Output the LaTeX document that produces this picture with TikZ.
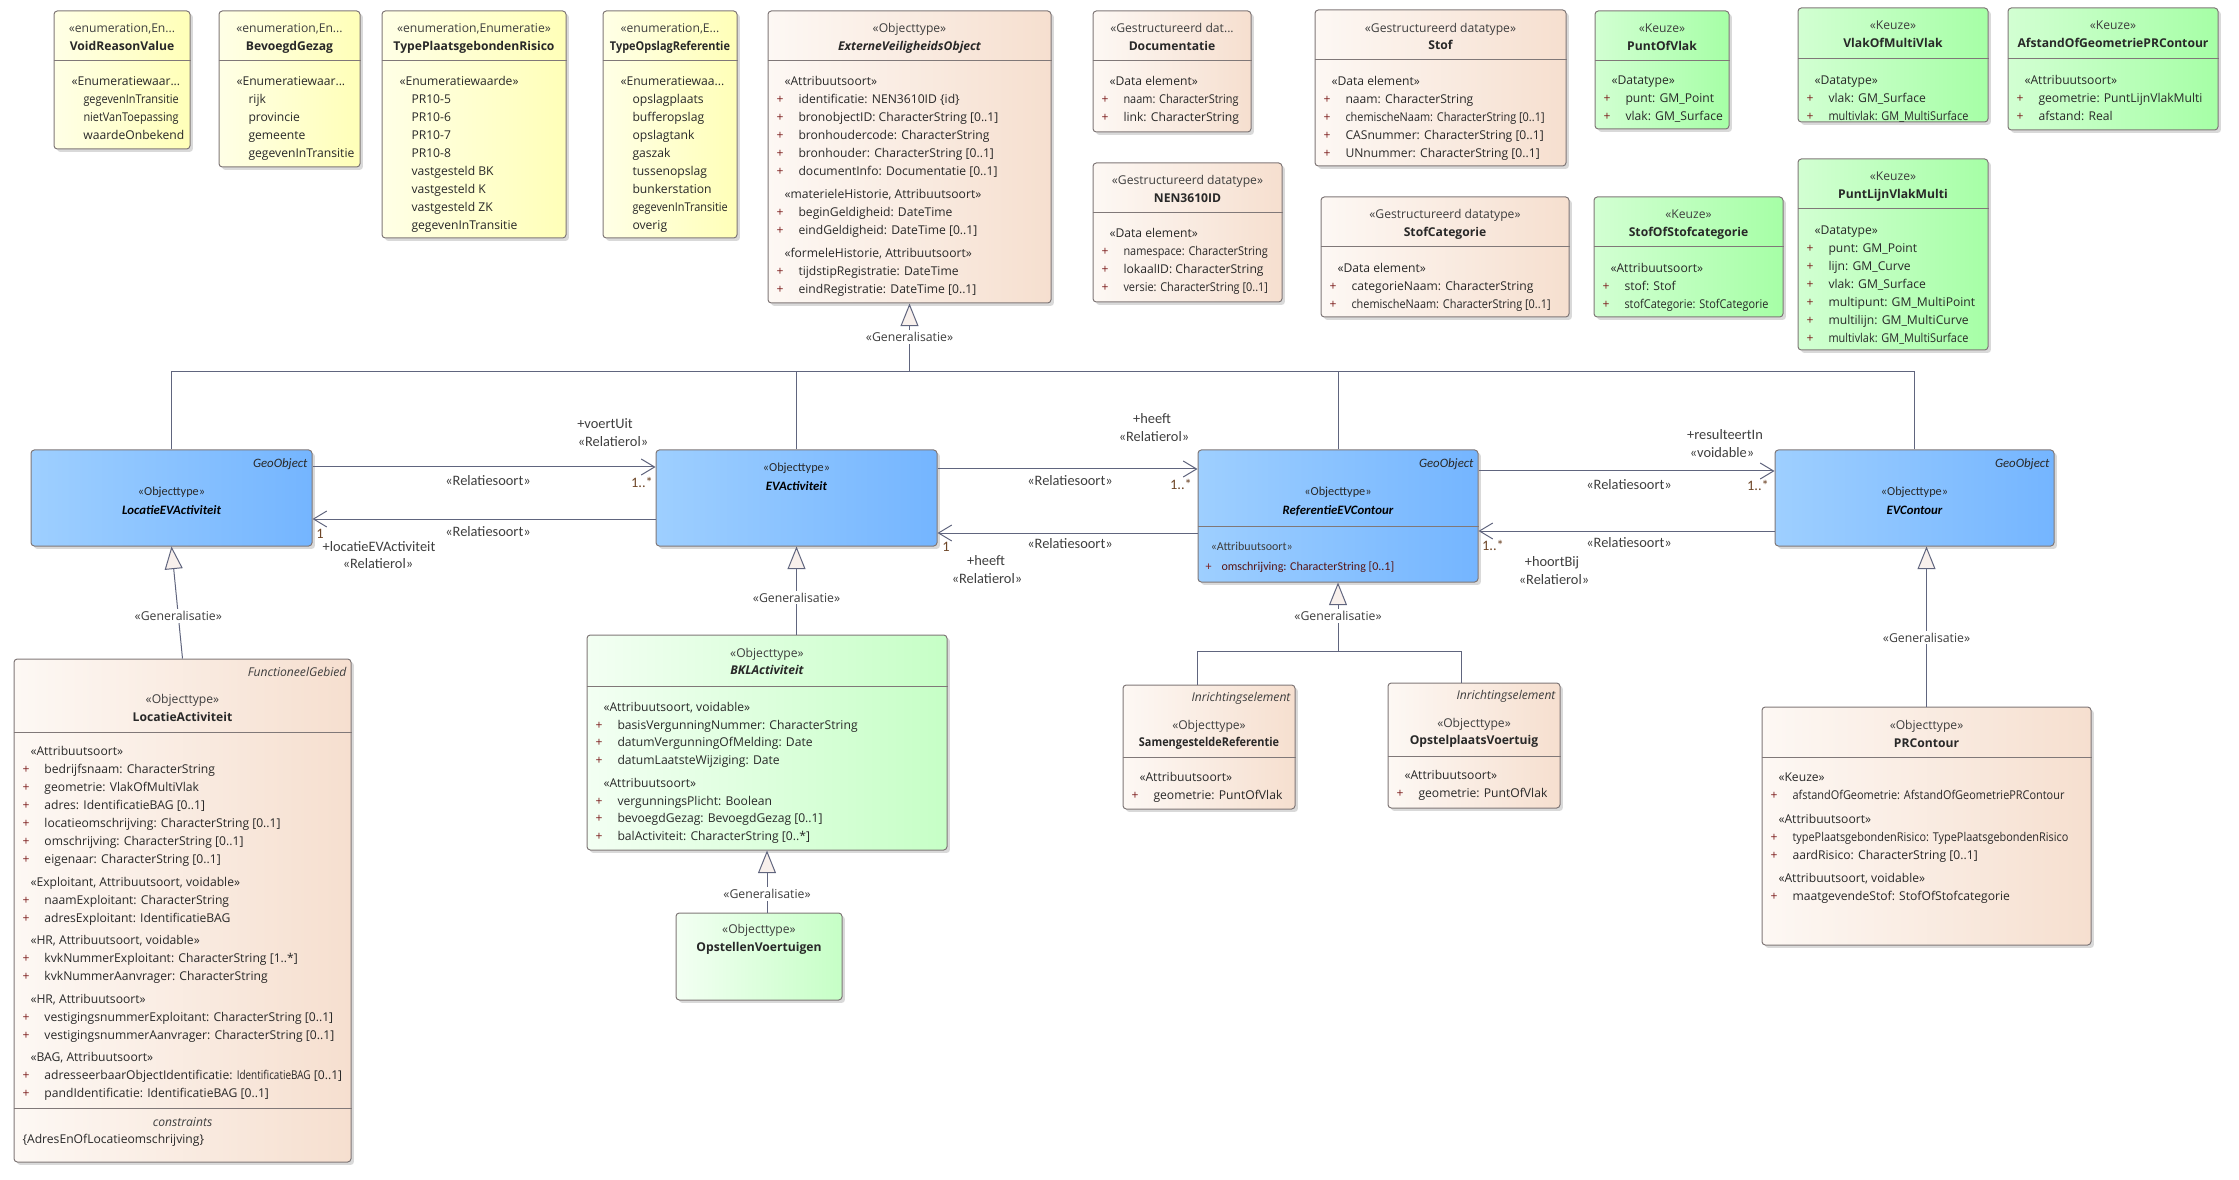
\documentclass[tikz,border=0pt]{standalone}
\usepackage{fontspec}
\usepackage{graphicx}
\setmainfont{Open Sans}
\newfontfamily\narrowfont{Carlito}
\usetikzlibrary{arrows.meta,fit,shadows}

\definecolor{enumL}{RGB}{255,255,230}
\definecolor{enumR}{RGB}{255,255,184}
\definecolor{objL}{RGB}{253,248,244}
\definecolor{objR}{RGB}{246,223,207}
\definecolor{geoL}{RGB}{158,207,255}
\definecolor{geoR}{RGB}{116,181,255}
\definecolor{keuzeL}{RGB}{210,255,210}
\definecolor{keuzeR}{RGB}{166,255,166}
\definecolor{bklL}{RGB}{243,255,243}
\definecolor{bklR}{RGB}{198,255,198}
\definecolor{boxline}{RGB}{128,120,120}
\definecolor{connline}{RGB}{96,101,126}
\definecolor{txt}{RGB}{40,40,40}
\definecolor{stertxt}{RGB}{62,62,62}
\definecolor{plusred}{RGB}{125,30,30}
\definecolor{multtxt}{RGB}{110,70,40}
\definecolor{trifill}{RGB}{248,240,236}

\newcommand{\pl}{\makebox[16.5pt][l]{\textcolor{plusred}{+}}}
\newcommand{\sti}{\hspace*{6pt}}
\newcommand{\evi}{\hspace*{9pt}}
\newcommand{\fstrut}{\rule{0pt}{9.5pt}}
\newcommand{\sqz}[1]{\scalebox{0.9}[1]{#1}}

\tikzset{every picture/.style={line width=0.75pt}}
\tikzset{
  umlbox/.style={draw=boxline, rounded corners=2.5pt, inner sep=0pt,
    drop shadow={shadow xshift=2.2pt, shadow yshift=-2.2pt, opacity=.3, fill=black!50}},
  enumbox/.style={umlbox, left color=enumL, right color=enumR},
  objbox/.style={umlbox, left color=objL, right color=objR},
  geobox/.style={umlbox, left color=geoL, right color=geoR},
  keuzebox/.style={umlbox, left color=keuzeL, right color=keuzeR},
  bklbox/.style={umlbox, left color=bklL, right color=bklR},
  compline/.style={draw=boxline, line width=0.75pt},
  ster/.style={anchor=base, inner sep=0pt, yshift=-1.1pt, text=stertxt, font=\fontsize{9.1}{13.5}\selectfont},
  cname/.style={anchor=base, inner sep=0pt, yshift=-1.1pt, text=txt, font=\fontsize{9.1}{13.5}\selectfont\bfseries},
  aname/.style={cname, font=\fontsize{9.1}{13.5}\selectfont\bfseries\itshape},
  tagged/.style={anchor=base east, inner sep=0pt, text=stertxt, font=\fontsize{9.1}{13.5}\selectfont\itshape},
  attrs/.style={anchor=north west, inner sep=0pt, yshift=-3pt, align=left, text=txt,
    font=\fontsize{9.1}{13.5}\selectfont, execute at begin node=\fstrut},
  gster/.style={anchor=base, inner sep=0pt, text=txt, font=\narrowfont\fontsize{9.2}{12}\selectfont},
  gname/.style={anchor=base, inner sep=0pt, text=black, font=\narrowfont\fontsize{9.6}{12}\selectfont\bfseries\itshape},
  gtag/.style={anchor=base east, inner sep=0pt, text=txt, font=\narrowfont\fontsize{9.6}{12}\selectfont\itshape},
  gattrs/.style={anchor=north west, inner sep=0pt, yshift=-3pt, align=left, text=stertxt,
    font=\narrowfont\fontsize{9}{15}\selectfont, execute at begin node=\fstrut},
  conn/.style={draw=connline, line width=0.75pt},
  assoc/.style={conn, -{Straight Barb[length=10pt,width=12pt]}},
  genarrow/.style={conn, -{Triangle[length=17pt,width=13.5pt,fill=trifill]}},
  genlabel/.style={fill=white, inner sep=1.5pt, text=stertxt, font=\fontsize{9.2}{11}\selectfont},
  rlabel/.style={inner sep=0.75pt, text=stertxt, font=\narrowfont\fontsize{10.8}{12}\selectfont},
  mlabel/.style={inner sep=0.75pt, text=multtxt, font=\narrowfont\fontsize{10.8}{12}\selectfont},
}

\begin{document}
\begin{tikzpicture}[x=0.75pt,y=0.75pt,yscale=-1,xscale=1]
    \useasboundingbox (0,0) rectangle (2239,1180);
    %Shape: Class [VoidReasonValue]
    \node[enumbox, fit={(54,11) (190,149)}] (voidrv) {};
    \draw[compline] (voidrv.west |- 0,61) -- (voidrv.east |- 0,61);
    % Text Node
    \node[ster] (voidrv-st) at (122,31) {«enumeration,En...};
    \node[cname] (voidrv-nm) at (122,49) {VoidReasonValue};
    \node[attrs] (voidrv-at) at (71,72) {«Enumeratiewaar...\\ \evi \sqz{gegevenInTransitie}\\ \evi \sqz{nietVanToepassing}\\ \evi waardeOnbekend};
    %Shape: Class [BevoegdGezag]
    \node[enumbox, fit={(219,11) (360,167)}] (bevgez) {};
    \draw[compline] (bevgez.west |- 0,61) -- (bevgez.east |- 0,61);
    % Text Node
    \node[ster] (bevgez-st) at (289.5,31) {«enumeration,En...};
    \node[cname] (bevgez-nm) at (289.5,49) {BevoegdGezag};
    \node[attrs] (bevgez-at) at (236,72) {«Enumeratiewaar...\\ \evi rijk\\ \evi provincie\\ \evi gemeente\\ \evi gegevenInTransitie};
    %Shape: Class [TypePlaatsgebondenRisico]
    \node[enumbox, fit={(382,11) (566,238)}] (typepr) {};
    \draw[compline] (typepr.west |- 0,61) -- (typepr.east |- 0,61);
    % Text Node
    \node[ster] (typepr-st) at (474,31) {«enumeration,Enumeratie»};
    \node[cname] (typepr-nm) at (474,49) {TypePlaatsgebondenRisico};
    \node[attrs] (typepr-at) at (399,72) {«Enumeratiewaarde»\\ \evi PR10-5\\ \evi PR10-6\\ \evi PR10-7\\ \evi PR10-8\\ \evi vastgesteld BK\\ \evi vastgesteld K\\ \evi vastgesteld ZK\\ \evi gegevenInTransitie};
    %Shape: Class [TypeOpslagReferentie]
    \node[enumbox, fit={(603,11) (737,238)}] (typeopr) {};
    \draw[compline] (typeopr.west |- 0,61) -- (typeopr.east |- 0,61);
    % Text Node
    \node[ster] (typeopr-st) at (670,31) {«enumeration,E...};
    \node[cname] (typeopr-nm) at (670,49) {\sqz{TypeOpslagReferentie}};
    \node[attrs] (typeopr-at) at (620,72) {«Enumeratiewaa...\\ \evi opslagplaats\\ \evi bufferopslag\\ \evi opslagtank\\ \evi gaszak\\ \evi tussenopslag\\ \evi bunkerstation\\ \evi \sqz{gegevenInTransitie}\\ \evi overig};
    %Shape: Class [ExterneVeiligheidsObject]
    \node[objbox, fit={(768,11) (1051,303)}] (evobj) {};
    \draw[compline] (evobj.west |- 0,61) -- (evobj.east |- 0,61);
    % Text Node
    \node[ster] (evobj-st) at (909.5,31) {«Objecttype»};
    \node[aname] (evobj-nm) at (909.5,49) {ExterneVeiligheidsObject};
    \node[attrs] (evobj-at) at (776,72) {\sti«Attribuutsoort»\\ \pl identificatie: NEN3610ID \{id\}\\ \pl bronobjectID: CharacterString [0..1]\\ \pl bronhoudercode: CharacterString\\ \pl bronhouder: CharacterString [0..1]\\ \pl documentInfo: Documentatie [0..1]\\[3.75pt]
      \sti«materieleHistorie, Attribuutsoort»\\ \pl beginGeldigheid: DateTime\\ \pl eindGeldigheid: DateTime [0..1]\\[3.75pt]
      \sti«formeleHistorie, Attribuutsoort»\\ \pl tijdstipRegistratie: DateTime\\ \pl eindRegistratie: DateTime [0..1]};
    %Shape: Class [Documentatie]
    \node[objbox, fit={(1093,11) (1251,132)}] (docu) {};
    \draw[compline] (docu.west |- 0,61) -- (docu.east |- 0,61);
    % Text Node
    \node[ster] (docu-st) at (1172,31) {«Gestructureerd dat...};
    \node[cname] (docu-nm) at (1172,49) {Documentatie};
    \node[attrs] (docu-at) at (1101,72) {\sti«Data element»\\ \pl \sqz{naam: CharacterString}\\ \pl link: CharacterString};
    %Shape: Class [NEN3610ID]
    \node[objbox, fit={(1093,163) (1282,302)}] (nenid) {};
    \draw[compline] (nenid.west |- 0,213) -- (nenid.east |- 0,213);
    % Text Node
    \node[ster] (nenid-st) at (1187.5,183) {«Gestructureerd datatype»};
    \node[cname] (nenid-nm) at (1187.5,201) {NEN3610ID};
    \node[attrs] (nenid-at) at (1101,224) {\sti«Data element»\\ \pl \sqz{namespace: CharacterString}\\ \pl lokaalID: CharacterString\\ \pl \sqz{versie: CharacterString [0..1]}};
    %Shape: Class [Stof]
    \node[objbox, fit={(1315,10) (1566,166)}] (stof) {};
    \draw[compline] (stof.west |- 0,60) -- (stof.east |- 0,60);
    % Text Node
    \node[ster] (stof-st) at (1440.5,31) {«Gestructureerd datatype»};
    \node[cname] (stof-nm) at (1440.5,48) {Stof};
    \node[attrs] (stof-at) at (1323,72) {\sti«Data element»\\ \pl naam: CharacterString\\ \pl \sqz{chemischeNaam: CharacterString [0..1]}\\ \pl CASnummer: CharacterString [0..1]\\ \pl UNnummer: CharacterString [0..1]};
    %Shape: Class [PuntOfVlak]
    \node[keuzebox, fit={(1595,11) (1729,129)}] (puntvlak) {};
    \draw[compline] (puntvlak.west |- 0,61) -- (puntvlak.east |- 0,61);
    % Text Node
    \node[ster] (puntvlak-st) at (1662,31) {«Keuze»};
    \node[cname] (puntvlak-nm) at (1662,49) {PuntOfVlak};
    \node[attrs] (puntvlak-at) at (1603,71) {\sti«Datatype»\\ \pl punt: GM\_Point\\ \pl vlak: GM\_Surface};
    %Shape: Class [VlakOfMultiVlak]
    \node[keuzebox, fit={(1798,8) (1988,122)}] (vlakmv) {};
    \draw[compline] (vlakmv.west |- 0,59) -- (vlakmv.east |- 0,59);
    % Text Node
    \node[ster] (vlakmv-st) at (1893,28) {«Keuze»};
    \node[cname] (vlakmv-nm) at (1893,46) {VlakOfMultiVlak};
    \node[attrs] (vlakmv-at) at (1806,71) {\sti«Datatype»\\ \pl vlak: GM\_Surface\\ \pl \sqz{multivlak: GM\_MultiSurface}};
    %Shape: Class [AfstandOfGeometriePRContour]
    \node[keuzebox, fit={(2008,8) (2218,130)}] (afstpr) {};
    \draw[compline] (afstpr.west |- 0,59) -- (afstpr.east |- 0,59);
    % Text Node
    \node[ster] (afstpr-st) at (2113,28) {«Keuze»};
    \node[cname] (afstpr-nm) at (2113,46) {AfstandOfGeometriePRContour};
    \node[attrs] (afstpr-at) at (2016,71) {\sti«Attribuutsoort»\\ \pl geometrie: PuntLijnVlakMulti\\ \pl afstand: Real};
    %Shape: Class [StofCategorie]
    \node[objbox, fit={(1321,197) (1569,317)}] (stofcat) {};
    \draw[compline] (stofcat.west |- 0,247) -- (stofcat.east |- 0,247);
    % Text Node
    \node[ster] (stofcat-st) at (1445,217) {«Gestructureerd datatype»};
    \node[cname] (stofcat-nm) at (1445,235) {StofCategorie};
    \node[attrs] (stofcat-at) at (1329,259) {\sti«Data element»\\ \pl categorieNaam: CharacterString\\ \pl \sqz{chemischeNaam: CharacterString [0..1]}};
    %Shape: Class [StofOfStofcategorie]
    \node[keuzebox, fit={(1594,197) (1783,317)}] (stofofcat) {};
    \draw[compline] (stofofcat.west |- 0,247) -- (stofofcat.east |- 0,247);
    % Text Node
    \node[ster] (stofofcat-st) at (1688.5,217) {«Keuze»};
    \node[cname] (stofofcat-nm) at (1688.5,235) {StofOfStofcategorie};
    \node[attrs] (stofofcat-at) at (1602,259) {\sti«Attribuutsoort»\\ \pl stof: Stof\\ \pl \sqz{stofCategorie: StofCategorie}};
    %Shape: Class [PuntLijnVlakMulti]
    \node[keuzebox, fit={(1798,159) (1988,350)}] (plvm) {};
    \draw[compline] (plvm.west |- 0,209) -- (plvm.east |- 0,209);
    % Text Node
    \node[ster] (plvm-st) at (1893,179) {«Keuze»};
    \node[cname] (plvm-nm) at (1893,197) {PuntLijnVlakMulti};
    \node[attrs] (plvm-at) at (1806,221) {\sti«Datatype»\\ \pl punt: GM\_Point\\ \pl lijn: GM\_Curve\\ \pl vlak: GM\_Surface\\ \pl multipunt: GM\_MultiPoint\\ \pl multilijn: GM\_MultiCurve\\ \pl \sqz{multivlak: GM\_MultiSurface}};

    %Shape: Class [LocatieEVActiviteit]
    \node[geobox, fit={(31,450) (312,546)}] (locev) {};
    % Text Node
    \node[gtag] (locev-tg) at (308,468) {GeoObject};
    \node[gster] (locev-st) at (171.5,495) {«Objecttype»};
    \node[gname] (locev-nm) at (171.5,514) {LocatieEVActiviteit};
    %Shape: Class [EVActiviteit]
    \node[geobox, fit={(656,450) (937,546)}] (evact) {};
    % Text Node
    \node[gster] (evact-st) at (796.5,472) {«Objecttype»};
    \node[gname] (evact-nm) at (796.5,491) {EVActiviteit};
    %Shape: Class [ReferentieEVContour]
    \node[geobox, fit={(1198,450) (1478,582)}] (refev) {};
    \draw[compline] (refev.west |- 0,526) -- (refev.east |- 0,526);
    % Text Node
    \node[gtag] (refev-tg) at (1474,468) {GeoObject};
    \node[gster] (refev-st) at (1338,495) {«Objecttype»};
    \node[gname] (refev-nm) at (1338,514) {ReferentieEVContour};
    \node[gattrs] (refev-at) at (1205,538) {\hspace*{4pt}«Attribuutsoort»\\ \makebox[12pt][l]{\textcolor{plusred}{+}}\textcolor{plusred!70!black}{omschrijving: CharacterString [0..1]}};
    %Shape: Class [EVContour]
    \node[geobox, fit={(1775,450) (2054,546)}] (evcon) {};
    % Text Node
    \node[gtag] (evcon-tg) at (2050,468) {GeoObject};
    \node[gster] (evcon-st) at (1914.5,495) {«Objecttype»};
    \node[gname] (evcon-nm) at (1914.5,514) {EVContour};

    %Shape: Class [LocatieActiviteit]
    \node[objbox, fit={(14,659) (351,1162)}] (locact) {};
    \draw[compline] (locact.west |- 0,732) -- (locact.east |- 0,732);
    \draw[compline] (locact.west |- 0,1108) -- (locact.east |- 0,1108);
    % Text Node
    \node[tagged] (locact-tg) at (347,676) {FunctioneelGebied};
    \node[ster] (locact-st) at (182.5,702) {«Objecttype»};
    \node[cname] (locact-nm) at (182.5,720) {LocatieActiviteit};
    \node[attrs] (locact-at) at (22,742) {\sti«Attribuutsoort»\\ \pl bedrijfsnaam: CharacterString\\ \pl geometrie: VlakOfMultiVlak\\ \pl adres: IdentificatieBAG [0..1]\\ \pl locatieomschrijving: CharacterString [0..1]\\ \pl omschrijving: CharacterString [0..1]\\ \pl eigenaar: CharacterString [0..1]\\[3.4pt]
      \sti«Exploitant, Attribuutsoort, voidable»\\ \pl naamExploitant: CharacterString\\ \pl adresExploitant: IdentificatieBAG\\[3.4pt]
      \sti«HR, Attribuutsoort, voidable»\\ \pl kvkNummerExploitant: CharacterString [1..*]\\ \pl kvkNummerAanvrager: CharacterString\\[3.4pt]
      \sti«HR, Attribuutsoort»\\ \pl vestigingsnummerExploitant: CharacterString [0..1]\\ \pl vestigingsnummerAanvrager: CharacterString [0..1]\\[3.4pt]
      \sti«BAG, Attribuutsoort»\\ \pl adresseerbaarObjectIdentificatie: \scalebox{0.82}[1]{IdentificatieBAG} [0..1]\\ \pl pandIdentificatie: IdentificatieBAG [0..1]};
    \node[ster, font=\fontsize{9.1}{13}\selectfont\itshape] (locact-cs) at (182.5,1125.5) {constraints};
    \node[ster, anchor=base west, text=txt] (locact-cv) at (22,1142.5) {\{AdresEnOfLocatieomschrijving\}};
    %Shape: Class [BKLActiviteit]
    \node[bklbox, fit={(587,635) (947,850)}] (bklact) {};
    \draw[compline] (bklact.west |- 0,686) -- (bklact.east |- 0,686);
    % Text Node
    \node[ster] (bklact-st) at (767,656) {«Objecttype»};
    \node[aname] (bklact-nm) at (767,673) {BKLActiviteit};
    \node[attrs, font=\fontsize{9.1}{13.2}\selectfont] (bklact-at) at (595,698) {\sti«Attribuutsoort, voidable»\\ \pl basisVergunningNummer: CharacterString\\ \pl datumVergunningOfMelding: Date\\ \pl datumLaatsteWijziging: Date\\[4pt]
      \sti«Attribuutsoort»\\ \pl vergunningsPlicht: Boolean\\ \pl bevoegdGezag: BevoegdGezag [0..1]\\ \pl balActiviteit: CharacterString [0..*]};
    %Shape: Class [OpstellenVoertuigen]
    \node[bklbox, fit={(676,913) (842,1000)}] (opstv) {};
    % Text Node
    \node[ster] (opstv-st) at (759,932) {«Objecttype»};
    \node[cname] (opstv-nm) at (759,950) {OpstellenVoertuigen};
    %Shape: Class [SamengesteldeReferentie]
    \node[objbox, fit={(1123,685) (1295,809)}] (samref) {};
    \draw[compline] (samref.west |- 0,757) -- (samref.east |- 0,757);
    % Text Node
    \node[tagged] (samref-tg) at (1291,701) {Inrichtingselement};
    \node[ster] (samref-st) at (1209,728) {«Objecttype»};
    \node[cname] (samref-nm) at (1209,745) {\sqz{SamengesteldeReferentie}};
    \node[attrs] (samref-at) at (1131,768) {\sti«Attribuutsoort»\\ \pl geometrie: PuntOfVlak};
    %Shape: Class [OpstelplaatsVoertuig]
    \node[objbox, fit={(1388,683) (1560,808)}] (opstpv) {};
    \draw[compline] (opstpv.west |- 0,756) -- (opstpv.east |- 0,756);
    % Text Node
    \node[tagged] (opstpv-tg) at (1556,699) {Inrichtingselement};
    \node[ster] (opstpv-st) at (1474,726) {«Objecttype»};
    \node[cname] (opstpv-nm) at (1474,743) {OpstelplaatsVoertuig};
    \node[attrs] (opstpv-at) at (1396,766) {\sti«Attribuutsoort»\\ \pl geometrie: PuntOfVlak};
    %Shape: Class [PRContour]
    \node[objbox, fit={(1762,707) (2091,945)}] (prcon) {};
    \draw[compline] (prcon.west |- 0,757) -- (prcon.east |- 0,757);
    % Text Node
    \node[ster] (prcon-st) at (1926.5,728) {«Objecttype»};
    \node[cname] (prcon-nm) at (1926.5,746) {PRContour};
    \node[attrs] (prcon-at) at (1770,768) {\sti«Keuze»\\ \pl \sqz{afstandOfGeometrie: AfstandOfGeometriePRContour}\\[4.5pt]
      \sti«Attribuutsoort»\\ \pl \sqz{typePlaatsgebondenRisico: TypePlaatsgebondenRisico}\\ \pl aardRisico: CharacterString [0..1]\\[4pt]
      \sti«Attribuutsoort, voidable»\\ \pl maatgevendeStof: StofOfStofcategorie};

    % Generalisatie naar ExterneVeiligheidsObject
    \coordinate (evojoin) at (evobj.south |- 0,372);
    \draw[conn] (locev.north) |- (evojoin);
    \draw[conn] (evcon.north) |- (evojoin);
    \draw[conn] (evact.north) -- (evact.north |- evojoin);
    \draw[conn] (refev.north) -- (refev.north |- evojoin);
    \draw[genarrow] (evojoin) -- (evobj.south) node[genlabel, pos=0.51] (gen-evo) {«Generalisatie»};
    % Generalisatie overig
    \draw[genarrow] (locact.north) -- (locev.south) node[genlabel, pos=0.38] (gen-locev) {«Generalisatie»};
    \draw[genarrow] (bklact.north -| evact.south) -- (evact.south) node[genlabel, pos=0.42] (gen-evact) {«Generalisatie»};
    \draw[genarrow] (opstv.north -| bklact.south) -- (bklact.south) node[genlabel, pos=0.3] (gen-bkl) {«Generalisatie»};
    \coordinate (refjoin) at (refev.south |- 0,651);
    \draw[conn] ([xshift=-9pt]samref.north) |- (refjoin);
    \draw[conn] ([xshift=-9.75pt]opstpv.north) |- (refjoin);
    \draw[genarrow] (refjoin) -- (refev.south) node[genlabel, pos=0.51] (gen-refev) {«Generalisatie»};
    \draw[genarrow] (prcon.north) -- (prcon.north |- evcon.south) node[genlabel, pos=0.43] (gen-evcon) {«Generalisatie»};

    % Relatiesoorten
    \draw[assoc] (locev.east |- 0,467) -- (evact.west |- 0,467);
    \draw[assoc] (evact.west |- 0,519) -- (locev.east |- 0,519);
    \draw[assoc] (evact.east |- 0,469) -- (refev.west |- 0,469);
    \draw[assoc] (refev.west |- 0,533) -- (evact.east |- 0,533);
    \draw[assoc] (refev.east |- 0,471) -- (evcon.west |- 0,471);
    \draw[assoc] (evcon.west |- 0,531) -- (refev.east |- 0,531);
    % Text Node
    \node[rlabel] (r1-st) at (488,481) {«Relatiesoort»};
    \node[mlabel] (r1-mu) at (642,482) {1..*};
    \node[rlabel] (r1-rl) at (605,424) {+voertUit};
    \node[rlabel] (r1-rs) at (613,442) {«Relatierol»};
    \node[rlabel] (r2-st) at (488,532) {«Relatiesoort»};
    \node[mlabel] (r2-mu) at (320,534) {1};
    \node[rlabel] (r2-rl) at (379,547) {+locatieEVActiviteit};
    \node[rlabel] (r2-rs) at (378,564) {«Relatierol»};
    \node[rlabel] (r3-st) at (1070,481) {«Relatiesoort»};
    \node[mlabel] (r3-mu) at (1181,484) {1..*};
    \node[rlabel] (r3-rl) at (1152,419) {+heeft};
    \node[rlabel] (r3-rs) at (1154,437) {«Relatierol»};
    \node[rlabel] (r4-st) at (1070,544) {«Relatiesoort»};
    \node[mlabel] (r4-mu) at (946,547) {1};
    \node[rlabel] (r4-rl) at (986,561) {+heeft};
    \node[rlabel] (r4-rs) at (987,579) {«Relatierol»};
    \node[rlabel] (r5-st) at (1629,485) {«Relatiesoort»};
    \node[mlabel] (r5-mu) at (1758,485) {1..*};
    \node[rlabel] (r5-rl) at (1725,435) {+resulteertIn};
    \node[rlabel] (r5-rs) at (1722,453) {«voidable»};
    \node[rlabel] (r6-st) at (1629,543) {«Relatiesoort»};
    \node[mlabel] (r6-mu) at (1493,545) {1..*};
    \node[rlabel] (r6-rl) at (1552,563) {+hoortBij};
    \node[rlabel] (r6-rs) at (1554,580) {«Relatierol»};
\end{tikzpicture}
\end{document}
